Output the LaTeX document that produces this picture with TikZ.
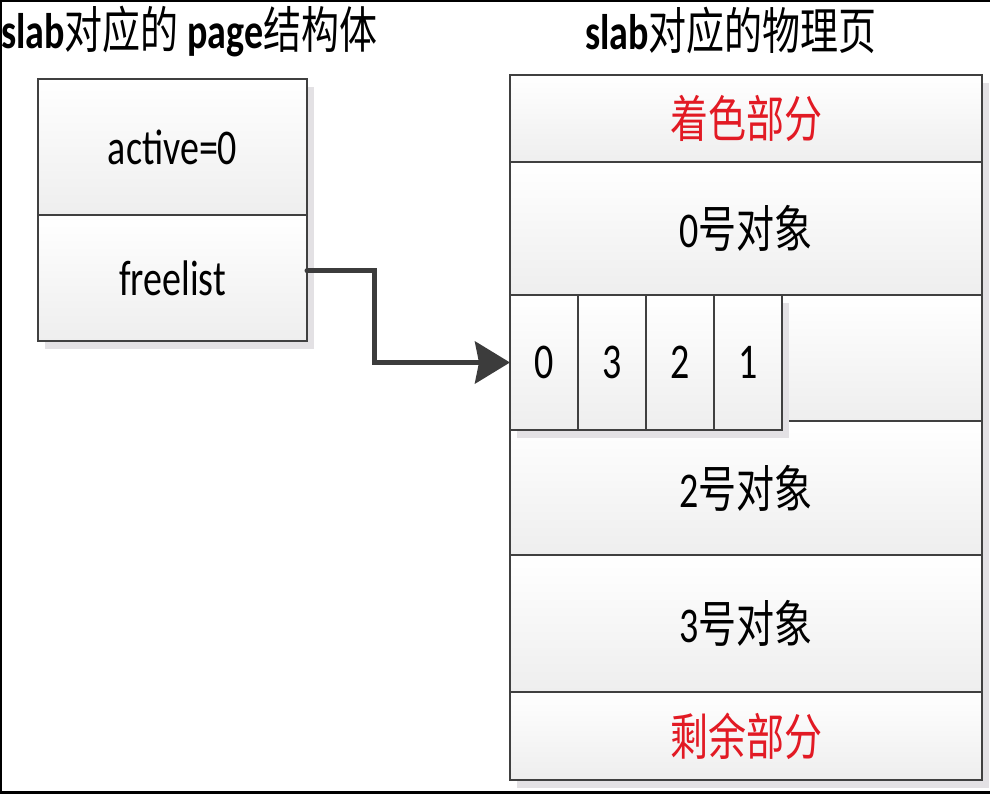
\documentclass[tikz,border=0pt]{standalone}
\usepackage{fontspec}
\setmainfont{Carlito}[FakeStretch=0.76]
\newfontfamily\cjk{Noto Sans CJK SC}[FakeStretch=0.76]
\usetikzlibrary{positioning,shadows,arrows.meta}
\definecolor{linegray}{RGB}{64,64,64}
\definecolor{arrowgray}{RGB}{60,60,60}
\definecolor{fillgray}{RGB}{238,238,238}
\definecolor{shadowgray}{RGB}{227,225,228}
\definecolor{slabred}{RGB}{226,26,36}
\newcommand{\zh}[1]{{\cjk #1}}

\begin{document}
\begin{tikzpicture}[x=1pt,y=-1pt,font=\fontsize{50}{60}\selectfont,
  box/.style={draw=linegray, line width=2.2pt, top color=white, bottom color=fillgray,
    inner sep=0pt, outer sep=0pt,
    drop shadow={shadow xshift=7pt, shadow yshift=-8pt, fill=shadowgray, opacity=1}},
  row/.style={box, minimum width=472pt},
  cell/.style={box, minimum width=68pt, minimum height=135pt},
  arrowline/.style={draw=arrowgray, line width=5pt, line cap=round,
    -{Stealth[length=35pt,width=42pt,inset=4pt]}}]
\useasboundingbox (0,0) rectangle (990,794);
\draw[line width=4pt] (0,0) rectangle (992,793);

% titles
\node[anchor=west, inner sep=0pt] (t1) at (1,32) {\textbf{slab}\zh{对应的} \textbf{page}\zh{结构体}};
\node[inner sep=0pt] (t2) at (731,30) {\textbf{slab}\zh{对应的物理页}};

% page struct
\node[box, minimum width=269pt, minimum height=136pt, anchor=north west] (a1) at (38,79) {active=0};
\node[box, minimum width=269pt, minimum height=126pt, below=0pt of a1] (a2) {freelist};

% physical page
\node[row, minimum height=87pt, anchor=north west, text=slabred] (r1) at (510,75) {\zh{着色部分}};
\node[row, minimum height=133pt, below=0pt of r1] (r2) {0\zh{号对象}};
\node[row, minimum height=126pt, below=0pt of r2] (r3) {};
\node[row, minimum height=134pt, below=0pt of r3] (r4) {2\zh{号对象}};
\node[row, minimum height=137pt, below=0pt of r4] (r5) {3\zh{号对象}};
\node[row, minimum height=88pt, below=0pt of r5, text=slabred] (r6) {\zh{剩余部分}};

% free objects
\node[cell, anchor=north west] (c0) at (510,295) {0};
\node[cell, right=0pt of c0] (c3) {3};
\node[cell, right=0pt of c3] (c2) {2};
\node[cell, right=0pt of c2] (c1) {1};

\draw[arrowline] ([yshift=7pt]a2.east) -- ++(67,0) |- (c0.west);

\end{tikzpicture}
\end{document}
